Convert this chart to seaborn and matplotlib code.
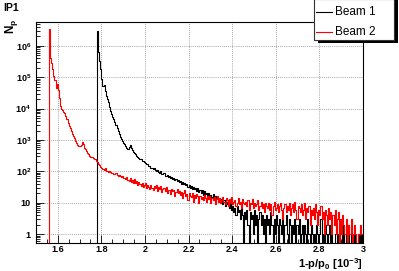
import numpy as np
import pandas as pd
import matplotlib
matplotlib.use("Agg")
import matplotlib.pyplot as plt
import seaborn as sns
from matplotlib.ticker import LogLocator, NullFormatter, MultipleLocator
from matplotlib.patches import Rectangle
from matplotlib.lines import Line2D

# histogram binning (1-p/p0 in units of 1e-3)
bin_width = 0.005
x_lo, x_hi = 1.5, 3.0

# Beam 2 (red) counts per bin, first bin starts at 1.560
beam2_start = 1.560
beam2_counts = [
    3300000, 420000, 280000, 180000, 112000, 80000, 46000, 60000, 40000, 22000,
    12500, 10000, 9000, 8000, 7000, 5600, 4500, 3500, 2800, 2350,
    1900, 1600, 1350, 1150, 950, 830, 700, 660, 630, 710,
    850, 760, 560, 500, 440, 400, 355, 316, 295, 282,
    270, 257, 240, 219, 200, 178, 158, 141, 132, 120,
    115, 124, 107, 105, 98, 104, 95, 91, 89, 84,
    83, 88, 79, 74, 76, 70, 66, 72, 61, 64,
    58, 66, 52, 49, 60, 47, 53, 44, 56, 42,
    48, 38, 45, 40, 35, 42, 31, 37, 44, 29,
    36, 33, 27, 38, 30, 25, 34, 29, 36, 24,
    31, 27, 35, 22, 28, 30, 24, 33, 21, 26,
    25, 19, 28, 23, 26, 17, 22, 27, 20, 24,
    18, 22, 14, 21, 25, 16, 19, 12, 20, 17,
    15, 21, 11, 18, 14, 19, 16, 10, 17, 13,
    15, 12, 18, 14, 11, 16, 13, 17, 10, 14,
    12, 15, 9, 13, 16, 11, 14, 10, 12, 15,
    11, 9, 14, 12, 8, 13, 10, 15, 9, 11,
    12, 8, 10, 14, 9, 11, 7, 13, 10, 9,
    11, 8, 12, 6, 10, 9, 13, 7, 10, 8,
    9, 12, 6, 8, 11, 7, 9, 5, 10, 8,
    7, 10, 6, 9, 4, 8, 11, 6, 7, 9,
    5, 8, 10, 6, 3, 7, 9, 5, 8, 6,
    10, 4, 7, 9, 5, 11, 6, 3, 8, 7,
    5, 9, 4, 6, 10, 3, 7, 5, 8, 2,
    6, 4, 7, 3, 9, 5, 2, 6, 4, 8,
    3, 5, 1, 6, 4, 2, 7, 3, 5, 1,
    4, 2, 6, 1, 3, 5, 0, 3, 1, 4,
    2, 1, 3, 0, 2, 1, 1, 3, 0, 1,
    2, 1, 0, 1, 1, 2, 1, 1,
]

# Beam 1 (black) counts per bin, first bin starts at 1.780
beam1_start = 1.780
beam1_counts = [
    2900000, 630000, 316000, 178000, 89000, 52000, 56000, 35000, 26000, 20000,
    16000, 11200, 8500, 6800, 5500, 4500, 3700, 3000, 2400, 1900,
    1500, 1260, 1100, 955, 830, 720, 630, 575, 530, 590,
    680, 560, 470, 415, 380, 350, 316, 295, 275, 251,
    244, 222, 219, 196, 190, 171, 170, 150, 148, 132,
    128, 120, 131, 110, 104, 115, 96, 92, 101, 85,
    82, 90, 74, 71, 79, 65, 70, 61, 66, 57,
    60, 52, 57, 48, 54, 45, 50, 41, 47, 39,
    43, 36, 40, 33, 38, 30, 35, 28, 32, 27,
    30, 24, 29, 22, 26, 20, 25, 18, 23, 19,
    21, 17, 20, 14, 18, 15, 19, 12, 16, 13,
    15, 11, 14, 10, 13, 9, 12, 8, 11, 9,
    10, 7, 9, 6, 8, 5, 7, 4, 8, 5,
    6, 3, 7, 4, 0, 5, 3, 6, 2, 0,
    5, 3, 4, 1, 6, 2, 4, 0, 3, 5,
    2, 4, 1, 3, 0, 4, 2, 3, 1, 5,
    2, 0, 3, 1, 4, 2, 0, 3, 2, 1,
    3, 0, 2, 4, 1, 0, 3, 2, 0, 2,
    1, 3, 0, 2, 1, 3, 0, 1, 2, 0,
    2, 1, 0, 3, 1, 0, 2, 1, 0, 1,
    0, 2, 1, 0, 1, 3, 0, 1, 0, 2,
    1, 0, 1, 2, 0, 1, 0, 0, 1, 2,
    0, 1, 0, 1, 1, 0, 2, 0, 1, 0,
    1, 0, 0, 2, 1, 0, 1, 0, 0, 1,
    0, 1, 0, 1,
]

series_labels = ["Beam 1", "Beam 2"]
series_colors = ["black", "red"]

x_ticks = [1.6, 1.8, 2.0, 2.2, 2.4, 2.6, 2.8, 3.0]
x_ticklabels = ["1.6", "1.8", "2", "2.2", "2.4", "2.6", "2.8", "3"]
y_ticks = [1, 10, 1e2, 1e3, 1e4, 1e5, 1e6]
y_ticklabels = ["1", "10", "$10^{2}$", "$10^{3}$", "$10^{4}$", "$10^{5}$", "$10^{6}$"]

plt.rcParams["font.family"] = ["Liberation Sans", "DejaVu Sans"]
plt.rcParams["mathtext.default"] = "regular"

n_bins = int(round((x_hi - x_lo) / bin_width))
centers = x_lo + bin_width * (np.arange(n_bins) + 0.5)


def full_hist(start, counts):
    # pad with empty bins so the histogram covers the whole axis range
    h = np.zeros(n_bins)
    i0 = int(round((start - x_lo) / bin_width))
    h[i0:i0 + len(counts)] = counts[:n_bins - i0]
    return pd.DataFrame({"x": centers, "w": h})


W, H = 399, 271
fig = plt.figure(figsize=(W / 100, H / 100), dpi=100)
ax = fig.add_axes([35.9 / W, 1 - 242.7 / H, 327.1 / W, 220.4 / H])

for start, counts, col in [(beam1_start, beam1_counts, series_colors[0]),
                           (beam2_start, beam2_counts, series_colors[1])]:
    sns.histplot(data=full_hist(start, counts), x="x", weights="w",
                 binwidth=bin_width, binrange=(x_lo, x_hi),
                 element="step", fill=False, color=col, linewidth=0.8, ax=ax)

ax.set_yscale("log")
ax.set_xlim(x_lo, x_hi)
ax.set_ylim(0.54, 5.56e6)
ax.set_xlabel("")
ax.set_ylabel("")

ax.set_xticks(x_ticks, x_ticklabels)
ax.xaxis.set_minor_locator(MultipleLocator(0.05))
ax.set_yticks(y_ticks, y_ticklabels)
ax.yaxis.set_minor_locator(LogLocator(base=10, subs=np.arange(2, 10), numticks=30))
ax.yaxis.set_minor_formatter(NullFormatter())

ax.tick_params(which="both", direction="in", top=False, right=False, width=0.6, color="black")
ax.tick_params(which="major", length=5.8)
ax.tick_params(which="minor", length=2.9)
ax.tick_params(axis="x", which="major", pad=1.5, labelsize=6.5)
ax.tick_params(axis="y", which="major", pad=3.5, labelsize=6.5)
for lab in ax.get_xticklabels() + ax.get_yticklabels():
    lab.set_fontweight("bold")

ax.grid(True, which="major", color="#888888", linestyle=(0, (1, 1.5)), linewidth=0.6)
ax.set_axisbelow(True)
for s in ax.spines.values():
    s.set_linewidth(0.8)
    s.set_color("black")

fig.text(3 / W, 1 - 8 / H, "IP1", fontweight="bold", fontsize=7.5, ha="left", va="center")
fig.text(2.5 / W, 1 - 19 / H, "N$_p$", rotation=90, fontweight="bold", fontsize=8.5,
         ha="left", va="top")
fig.text(363 / W, 1 - 264 / H, "1-p/p$_0$ [10$^{-3}$]", fontweight="bold", fontsize=8,
         ha="right", va="center")

# legend box with ROOT-style drop shadow
fig.patches.append(Rectangle((318 / W, 1 - 43 / H), 80 / W, 43 / H, transform=fig.transFigure,
                             facecolor="black", edgecolor="none", zorder=10))
fig.patches.append(Rectangle((314.3 / W, 1 - 40 / H), 80 / W, 41 / H, transform=fig.transFigure,
                             facecolor="white", edgecolor="#333333", linewidth=0.8, zorder=11))
for i, (lab, col) in enumerate(zip(series_labels, series_colors)):
    yy = 1 - (12 + 20 * i) / H
    fig.lines.append(Line2D([316 / W, 332 / W], [yy, yy], transform=fig.transFigure,
                            color=col, linewidth=0.8, zorder=12))
    fig.text(335 / W, yy, lab, fontsize=8.5, ha="left", va="center", zorder=12)

fig.savefig("out.png", dpi=100)
